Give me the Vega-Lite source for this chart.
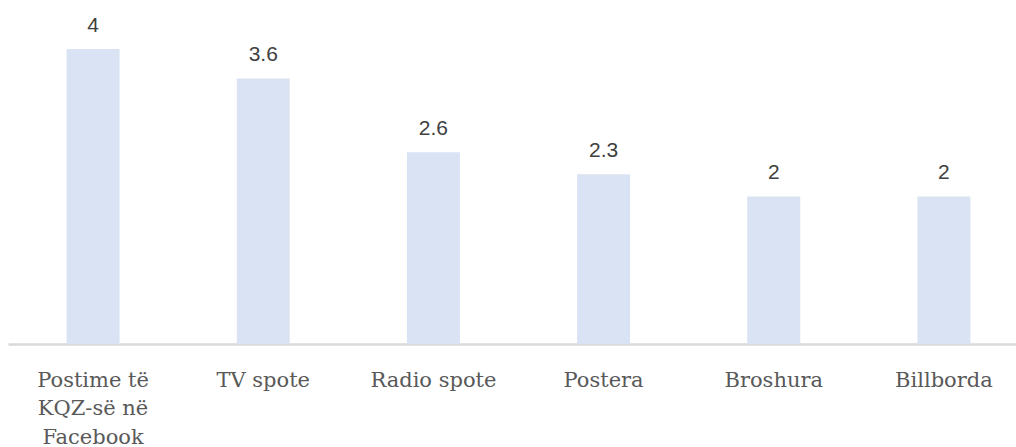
{
  "$schema": "https://vega.github.io/schema/vega-lite/v6.json",
  "width": 1008,
  "height": 332,
  "autosize": {"type": "none"},
  "padding": {"left": 8, "top": 12, "right": 0, "bottom": 103},
  "background": "white",
  "config": {"view": {"stroke": null}},
  "data": {
    "values": [
      {"kategoria": "Postime të|KQZ-së në|Facebook", "vlera": 4},
      {"kategoria": "TV spote", "vlera": 3.6},
      {"kategoria": "Radio spote", "vlera": 2.6},
      {"kategoria": "Postera", "vlera": 2.3},
      {"kategoria": "Broshura", "vlera": 2},
      {"kategoria": "Billborda", "vlera": 2}
    ]
  },
  "encoding": {
    "x": {
      "field": "kategoria",
      "type": "nominal",
      "sort": null,
      "scale": {"range": [0, 1021], "paddingInner": 0, "paddingOuter": 0},
      "axis": {
        "title": null,
        "ticks": false,
        "labelAngle": 0,
        "labelExpr": "split(datum.label, '|')",
        "labelFont": "DejaVu Serif",
        "labelFontSize": 21,
        "labelColor": "#595959",
        "labelLineHeight": 28.5,
        "labelPadding": 36,
        "labelBaseline": "middle",
        "domainColor": "#d9d9d9",
        "domainWidth": 2.5
      }
    },
    "y": {
      "field": "vlera",
      "type": "quantitative",
      "scale": {"domain": [0, 4.5], "nice": false},
      "axis": null
    }
  },
  "layer": [
    {"mark": {"type": "bar", "width": 53, "color": "#dae3f3"}},
    {
      "mark": {
        "type": "text",
        "dy": -17,
        "baseline": "alphabetic",
        "font": "Liberation Sans",
        "fontSize": 21,
        "color": "#404040"
      },
      "encoding": {"text": {"field": "vlera", "type": "quantitative"}}
    }
  ]
}
